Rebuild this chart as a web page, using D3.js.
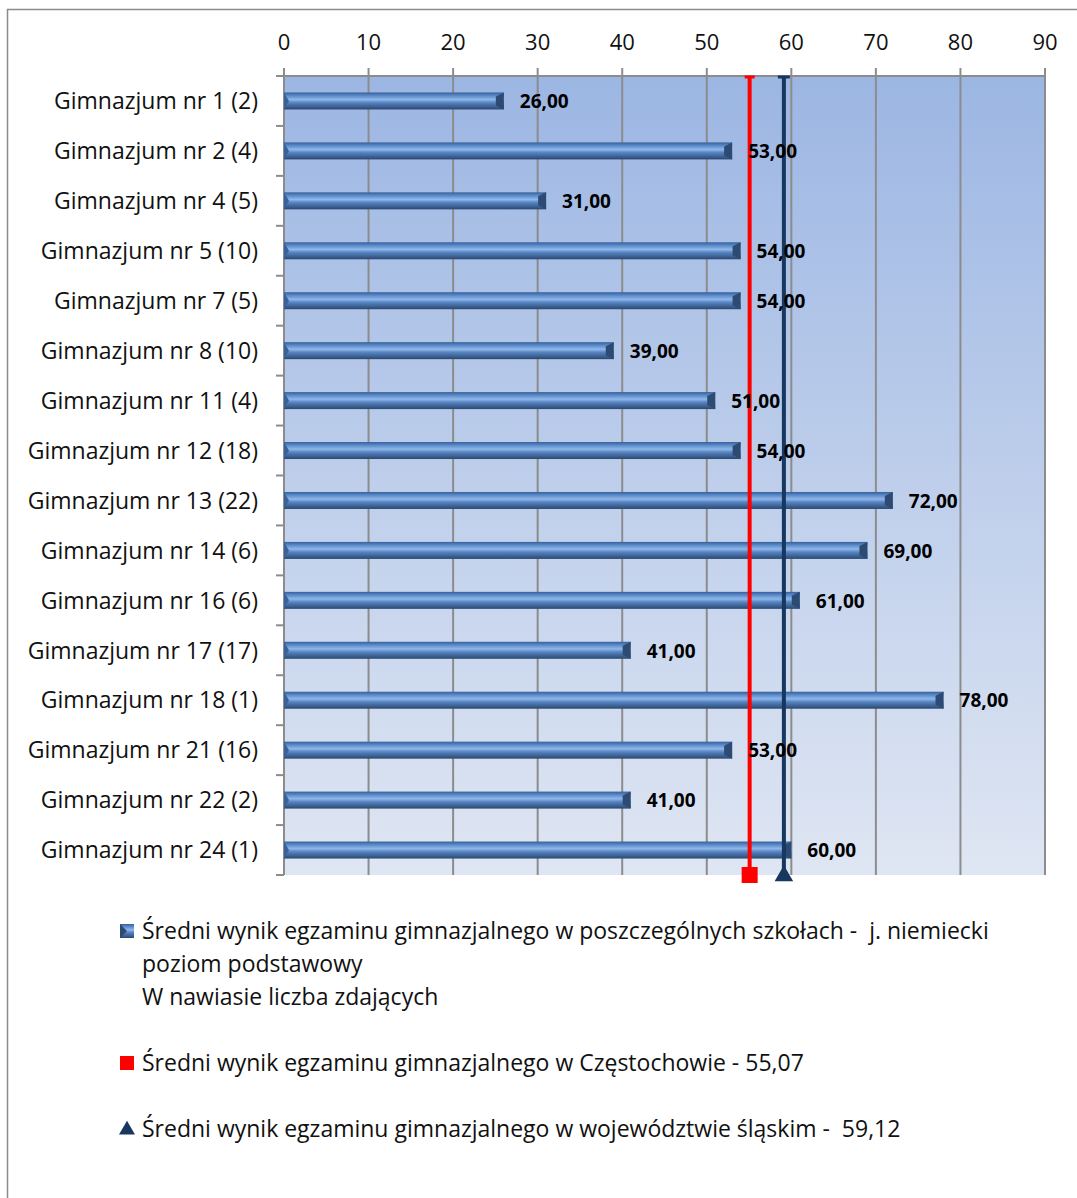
<!DOCTYPE html>
<html>
<head>
<meta charset="utf-8">
<script src="https://cdn.jsdelivr.net/npm/d3@7"></script>
<style>
  body { margin: 0; background: #fff; }
  text { font-family: "Open Sans", sans-serif; white-space: pre; }
</style>
</head>
<body>
<div id="chart"></div>
<script>
var categories = ["Gimnazjum nr 1 (2)", "Gimnazjum nr 2 (4)", "Gimnazjum nr 4 (5)", "Gimnazjum nr 5 (10)",
  "Gimnazjum nr 7 (5)", "Gimnazjum nr 8 (10)", "Gimnazjum nr 11 (4)", "Gimnazjum nr 12 (18)",
  "Gimnazjum nr 13 (22)", "Gimnazjum nr 14 (6)", "Gimnazjum nr 16 (6)", "Gimnazjum nr 17 (17)",
  "Gimnazjum nr 18 (1)", "Gimnazjum nr 21 (16)", "Gimnazjum nr 22 (2)", "Gimnazjum nr 24 (1)"];
var values = [26, 53, 31, 54, 54, 39, 51, 54, 72, 69, 61, 41, 78, 53, 41, 60];
var cityAvg = 55.07;
var regionAvg = 59.12;
var xTicks = [0, 10, 20, 30, 40, 50, 60, 70, 80, 90];
var legendLines = [
  ["Średni wynik egzaminu gimnazjalnego w poszczególnych szkołach -  j. niemiecki", "poziom podstawowy", "W nawiasie liczba zdających"],
  ["Średni wynik egzaminu gimnazjalnego w Częstochowie - 55,07"],
  ["Średni wynik egzaminu gimnazjalnego w województwie śląskim -  59,12"]
];

var W = 1077, H = 1198;
var pLeft = 284, pRight = 1045, pTop = 76, pBottom = 875;

var svg = d3.select("#chart").append("svg")
  .attr("width", W)
  .attr("height", H);

var defs = svg.append("defs");
var bg = defs.append("linearGradient").attr("id", "bg")
  .attr("x1", 0).attr("y1", 0).attr("x2", 0).attr("y2", 1);
bg.append("stop").attr("offset", "0%").attr("stop-color", "#9cb6e3");
bg.append("stop").attr("offset", "100%").attr("stop-color", "#dfe6f3");

var barGrad = defs.append("linearGradient").attr("id", "bar")
  .attr("x1", 0).attr("y1", 0).attr("x2", 0).attr("y2", 1);
barGrad.append("stop").attr("offset", "0%").attr("stop-color", "#36609a");
barGrad.append("stop").attr("offset", "20%").attr("stop-color", "#5d8ccb");
barGrad.append("stop").attr("offset", "42%").attr("stop-color", "#8fb7ea");
barGrad.append("stop").attr("offset", "60%").attr("stop-color", "#5784c2");
barGrad.append("stop").attr("offset", "100%").attr("stop-color", "#2a4870");

// outer frame
svg.append("rect")
  .attr("x", 7.5).attr("y", 9.5)
  .attr("width", W + 20).attr("height", H + 20)
  .attr("fill", "none")
  .attr("stroke", "#8c8c8c")
  .attr("stroke-width", 1.5);

var x = d3.scaleLinear().domain([0, 90]).range([pLeft, pRight]);
var y = d3.scaleBand().domain(categories).range([pTop, pBottom]);

// plot background
svg.append("rect")
  .attr("x", x(0)).attr("y", pTop)
  .attr("width", x(90) - x(0)).attr("height", pBottom - pTop)
  .attr("fill", "url(#bg)");

// gridlines
svg.selectAll(".grid").data(xTicks).enter().append("line")
  .attr("x1", function(d){ return x(d); })
  .attr("x2", function(d){ return x(d); })
  .attr("y1", pTop - 8)
  .attr("y2", pBottom)
  .attr("stroke", "#8c8c8c")
  .attr("stroke-width", 2);

// top axis line
svg.append("line")
  .attr("x1", x(0)).attr("x2", x(90))
  .attr("y1", pTop).attr("y2", pTop)
  .attr("stroke", "#8c8c8c").attr("stroke-width", 2);

// tick labels
svg.selectAll(".tick").data(xTicks).enter().append("text")
  .attr("x", function(d){ return x(d); })
  .attr("y", 50)
  .attr("text-anchor", "middle")
  .style("font-size", "22px")
  .style("fill", "#111")
  .text(function(d){ return d; });

// category ticks
var bounds = d3.range(categories.length + 1).map(function(i){ return pTop + i * y.step(); });
svg.selectAll(".ctick").data(bounds).enter().append("line")
  .attr("x1", pLeft - 8).attr("x2", pLeft)
  .attr("y1", function(d){ return d; })
  .attr("y2", function(d){ return d; })
  .attr("stroke", "#8c8c8c").attr("stroke-width", 2);

// category labels
svg.selectAll(".cat").data(categories).enter().append("text")
  .attr("x", 258)
  .attr("y", function(d){ return y(d) + y.bandwidth() / 2; })
  .attr("dy", "0.36em")
  .attr("text-anchor", "end")
  .style("font-size", "23px")
  .style("fill", "#111")
  .text(function(d){ return d; });

// bars
var bh = 17;
var bars = svg.selectAll(".bar").data(values).enter().append("g");
bars.append("rect")
  .attr("x", x(0))
  .attr("y", function(d, i){ return y(categories[i]) + y.bandwidth() / 2 - bh / 2; })
  .attr("width", function(d){ return x(d) - x(0); })
  .attr("height", bh)
  .attr("fill", "url(#bar)");
// bevelled right end
bars.append("path")
  .attr("d", function(d, i){
    var cy = y(categories[i]) + y.bandwidth() / 2;
    var xe = x(d);
    return "M" + (xe - 8) + "," + (cy - bh / 2 + 4) + "L" + xe + "," + (cy - bh / 2) +
      "L" + xe + "," + (cy + bh / 2) + "L" + (xe - 8) + "," + (cy + bh / 2 - 4) + "Z";
  })
  .attr("fill", "#2c4a72");
// bevelled left end
bars.append("path")
  .attr("d", function(d, i){
    var cy = y(categories[i]) + y.bandwidth() / 2;
    var xs = x(0);
    return "M" + xs + "," + (cy - bh / 2) + "L" + (xs + 5) + "," + cy + "L" + xs + "," + (cy + bh / 2) + "Z";
  })
  .attr("fill", "#3a6299");

// city average (red)
svg.append("line")
  .attr("x1", x(cityAvg)).attr("x2", x(cityAvg))
  .attr("y1", pTop).attr("y2", pBottom)
  .attr("stroke", "#ff0000").attr("stroke-width", 4);
svg.append("line")
  .attr("x1", x(cityAvg) - 5).attr("x2", x(cityAvg) + 5)
  .attr("y1", pTop + 1).attr("y2", pTop + 1)
  .attr("stroke", "#ff0000").attr("stroke-width", 3);
svg.append("rect")
  .attr("x", x(cityAvg) - 8).attr("y", pBottom - 8)
  .attr("width", 16).attr("height", 16)
  .attr("fill", "#ff0000");

// region average (navy)
svg.append("line")
  .attr("x1", x(regionAvg)).attr("x2", x(regionAvg))
  .attr("y1", pTop).attr("y2", pBottom)
  .attr("stroke", "#17375e").attr("stroke-width", 4);
svg.append("line")
  .attr("x1", x(regionAvg) - 6).attr("x2", x(regionAvg) + 6)
  .attr("y1", pTop + 1).attr("y2", pTop + 1)
  .attr("stroke", "#17375e").attr("stroke-width", 3);
svg.append("path")
  .attr("d", d3.symbol().type(d3.symbolTriangle).size(150)())
  .attr("transform", "translate(" + x(regionAvg) + "," + (pBottom + 1) + ")")
  .attr("fill", "#17375e");

// value labels
svg.selectAll(".val").data(values).enter().append("text")
  .attr("x", function(d){ return x(d) + 16; })
  .attr("y", function(d, i){ return y(categories[i]) + y.bandwidth() / 2; })
  .attr("dy", "0.38em")
  .style("font-size", "19px")
  .style("font-weight", "bold")
  .style("fill", "#000")
  .text(function(d){ return d3.format(".2f")(d).replace(".", ","); });

// legend
var lx = 142;
var legendY = [931, 1063, 1129];
var lg = svg.selectAll(".leg").data(legendLines).enter().append("g");
lg.each(function(lines, k){
  var g = d3.select(this);
  lines.forEach(function(t, j){
    g.append("text")
      .attr("x", lx)
      .attr("y", legendY[k] + j * 33)
      .attr("dy", "0.36em")
      .style("font-size", "23px")
      .style("fill", "#111")
      .text(t);
  });
});
svg.append("rect")
  .attr("x", 120).attr("y", legendY[0] - 7)
  .attr("width", 14).attr("height", 14)
  .attr("fill", "url(#bar)");
svg.append("path")
  .attr("d", "M120," + (legendY[0] - 7) + "L127," + legendY[0] + "L120," + (legendY[0] + 7) + "Z")
  .attr("fill", "#2c4a72");
svg.append("rect")
  .attr("x", 120).attr("y", legendY[1] - 7)
  .attr("width", 14).attr("height", 14)
  .attr("fill", "#ff0000");
svg.append("path")
  .attr("d", d3.symbol().type(d3.symbolTriangle).size(110)())
  .attr("transform", "translate(127," + (legendY[2] + 1) + ")")
  .attr("fill", "#17375e");
</script>
</body>
</html>
